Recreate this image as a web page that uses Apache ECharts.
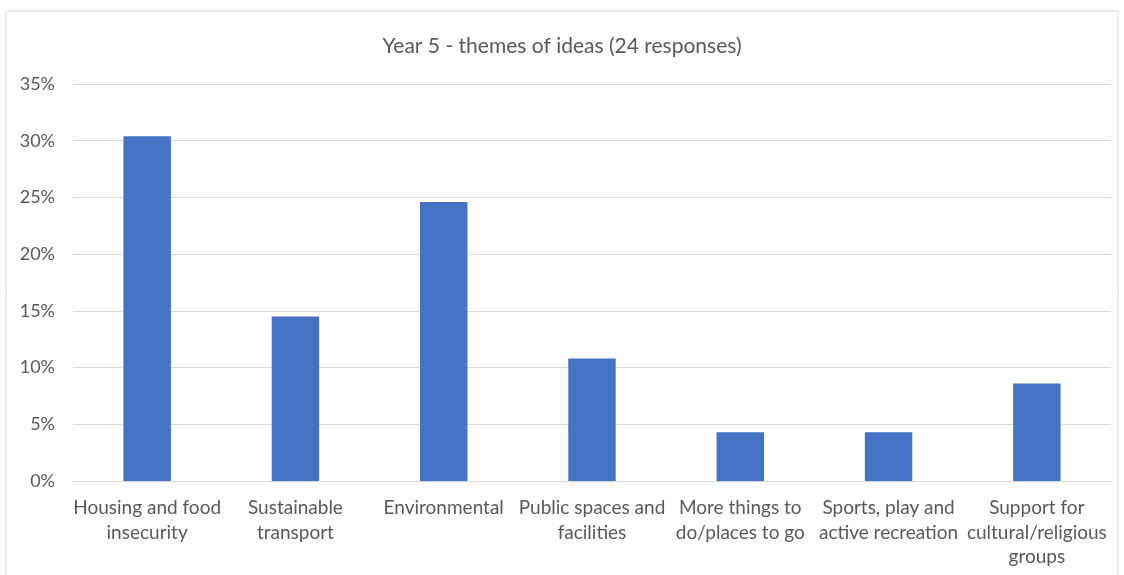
<!DOCTYPE html>
<html><head><meta charset="utf-8">
<script src="https://cdn.jsdelivr.net/npm/echarts@6/dist/echarts.min.js"></script>
<style>html,body{margin:0;padding:0;background:#fff}#c{width:1124px;height:575px}</style>
</head><body><div id="c"></div>
<script>
const titleText = "Year 5 - themes of ideas (24 responses)";
const categories = [
  "Housing and food\ninsecurity",
  "Sustainable\ntransport",
  "Environmental",
  "Public spaces and\nfacilities",
  "More things to\ndo/places to go",
  "Sports, play and\nactive recreation",
  "Support for\ncultural/religious\ngroups"
];
const values = [30.4, 14.5, 24.6, 10.8, 4.3, 4.3, 8.6];
const yMin = 0, yMax = 35, yStep = 5;

const chart = echarts.init(document.getElementById('c'));
const font = "Lato, 'Open Sans', sans-serif";
chart.setOption({
  animation: false,
  backgroundColor: '#fff',
  graphic: [{type:'rect', shape:{x:6, y:11, width:1112, height:620}, style:{fill:'none', stroke:'#d9d9d9', lineWidth:1}, silent:true}],
  title: {text: titleText, left: 'center', top: 31, textStyle:{fontFamily: font, fontSize: 21, fontWeight:'normal', color:'#595959'}},
  grid: {left: 73, right: 13, top: 84, bottom: 94, containLabel: false},
  xAxis: {type:'category', data: categories,
    axisLine:{show:true, lineStyle:{color:'#d9d9d9'}}, axisTick:{show:false},
    axisLabel:{interval:0, fontFamily: font, fontSize:19, color:'#595959', lineHeight:24.5, margin:15}},
  yAxis: {type:'value', min:yMin, max:yMax, interval:yStep,
    axisLine:{show:false}, axisTick:{show:false},
    splitLine:{lineStyle:{color:'#d9d9d9'}},
    axisLabel:{formatter: v => v + '%', fontFamily: font, fontSize:18, color:'#595959', margin:18}},
  series: [{type:'bar', data: values, barWidth:'32%', itemStyle:{color:'#4472c4'}}]
});
</script></body></html>
